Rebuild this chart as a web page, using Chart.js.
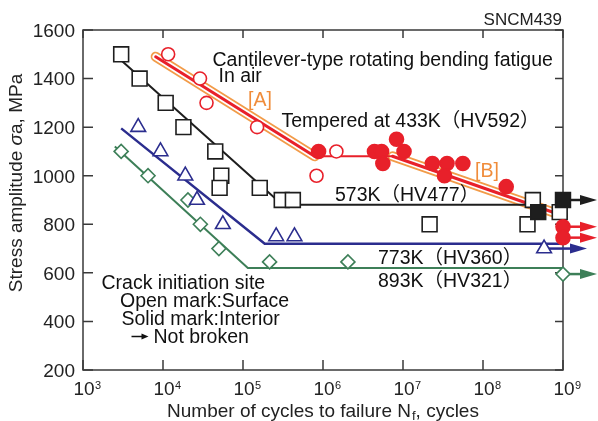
<!DOCTYPE html>
<html>
<head>
<meta charset="utf-8">
<script src="https://cdn.jsdelivr.net/npm/chart.js@4.4.1/dist/chart.umd.min.js"></script>
<style>
  body { margin: 0; background: #fff; }
</style>
</head>
<body>
<canvas id="sn" width="598" height="421"></canvas>
<script>
// SNCM439 rotating bending S-N data (N in cycles, stress in MPa)

// tempered at 433K (HV592)
const n433Open = [1.16e4, 2.9e4, 3.5e4, 1.5e5, 1.47e6, 8.3e5];
const s433Open = [1500, 1400, 1300, 1200, 1100, 1000];
const n433Solid = [8.8e5, 4.4e6, 5.4e6, 5.6e6, 8.3e6, 1.03e7, 2.33e7, 3.55e7, 5.6e7, 3.3e7, 1.95e8, 1e9, 1e9];
const s433Solid = [1100, 1100, 1100, 1050, 1150, 1100, 1050, 1050, 1050, 1000, 955, 790, 745];

// 573K (HV477)
const n573Open = [3e3, 5.1e3, 1.08e4, 1.8e4, 4.5e4, 5.35e4, 5.1e4, 1.62e5, 3.05e5, 4.2e5, 2.15e7, 3.6e8, 4.2e8, 9.1e8];
const s573Open = [1500, 1400, 1300, 1200, 1100, 1000, 950, 950, 900, 900, 800, 800, 900, 850];
const n573Solid = [4.9e8, 1e9];
const s573Solid = [850, 900];

// 773K (HV360)
const n773 = [4.9e3, 9.3e3, 1.9e4, 2.66e4, 5.6e4, 2.6e5, 4.4e5, 5.8e8];
const s773 = [1200, 1100, 1000, 900, 800, 750, 750, 700];

// 893K (HV321)
const n893 = [3e3, 6.5e3, 2.05e4, 2.93e4, 5e4, 2.15e5, 2.05e6, 1e9];
const s893 = [1100, 1000, 900, 800, 700, 645, 645, 595];

// fitted S-N curves
const fitAN = [8.1e3, 7.85e5];
const fitAS = [1490, 1080];
const fit433N = [7.85e5, 7.4e6];
const fit433S = [1080, 1080];
const fitBN = [7.4e6, 1e9];
const fitBS = [1080, 835];
const fit573N = [2.9e3, 3.1e5, 3.8e8];
const fit573S = [1480, 880, 880];
const fit773N = [3e3, 1.87e5, 1e9];
const fit773S = [1195, 720, 720];
const fit893N = [2.5e3, 1.15e5, 1e9];
const fit893S = [1120, 620, 620];

// run-outs (not broken)
const runN = [1e9, 1e9, 1e9, 5.8e8, 1e9];
const runS = [900, 790, 745, 700, 595];

const xExps = [3, 4, 5, 6, 7, 8, 9];
const yTicks = [200, 400, 600, 800, 1000, 1200, 1400, 1600];

const RED = '#e8202a', ORANGE = '#f29b48', BLUE = '#2b2d8e', GREEN = '#3d7f58', BLACK = '#1e1e1e';
const FONT = '"Liberation Sans", Arial, "Noto Sans CJK JP", sans-serif';

function pts(ns, ss) {
    return ns.map((n, i) => ({ x: n, y: ss[i] }));
}

function curve(ns, ss, color, width, order, cap) {
    return {
        data: pts(ns, ss), showLine: true, borderColor: color, borderWidth: width,
        borderCapStyle: cap || 'butt', borderJoinStyle: 'round',
        pointRadius: 0, pointHoverRadius: 0, order: order, clip: false
    };
}

function marks(ns, ss, style, r, color, solid) {
    return {
        data: pts(ns, ss), showLine: false, pointStyle: style,
        pointRadius: r, pointHoverRadius: r,
        pointBorderColor: color, pointBackgroundColor: solid ? color : '#fff',
        pointBorderWidth: 1.6, order: 0, clip: false
    };
}

const datasets = [
    marks(n433Solid, s433Solid, 'circle', 7, RED, true),
    marks(n433Open, s433Open, 'circle', 6.5, RED, false),
    marks(n573Solid, s573Solid, 'rect', 10.5, BLACK, true),
    marks(n573Open, s573Open, 'rect', 10.5, BLACK, false),
    marks(n773, s773, 'triangle', 8.5, BLUE, false),
    marks(n893, s893, 'rectRot', 7, GREEN, false),
    curve(fit573N, fit573S, BLACK, 2, 5),
    curve(fit773N, fit773S, BLUE, 2.5, 5),
    curve(fit893N, fit893S, GREEN, 2, 5),
    curve(fit433N, fit433S, RED, 2, 6),
    curve(fitAN, fitAS, RED, 3, 7, 'round'),
    curve(fitBN, fitBS, RED, 3, 7, 'round'),
    curve(fitAN, fitAS, '#fff', 6.5, 8, 'round'),
    curve(fitBN, fitBS, '#fff', 6.5, 8, 'round'),
    curve(fitAN, fitAS, ORANGE, 10, 9, 'round'),
    curve(fitBN, fitBS, ORANGE, 10, 9, 'round')
];

function arrow(ctx, x0, y0, x1, color, w, head, half) {
    ctx.strokeStyle = color;
    ctx.fillStyle = color;
    ctx.lineWidth = w;
    ctx.beginPath();
    ctx.moveTo(x0, y0);
    ctx.lineTo(x1 - head + 2, y0);
    ctx.stroke();
    ctx.beginPath();
    ctx.moveTo(x1, y0);
    ctx.lineTo(x1 - head, y0 - half);
    ctx.lineTo(x1 - head, y0 + half);
    ctx.closePath();
    ctx.fill();
}

function text(ctx, s, x, y, size, color, align, style) {
    ctx.font = (style || '') + ' ' + size + 'px ' + FONT;
    ctx.fillStyle = color || '#111';
    ctx.textAlign = align || 'left';
    ctx.textBaseline = 'alphabetic';
    ctx.fillText(s, x, y);
}

const framePlugin = {
    id: 'frame',
    beforeDraw(chart) {
        const ctx = chart.ctx;
        ctx.save();
        ctx.fillStyle = '#fff';
        ctx.fillRect(0, 0, chart.width, chart.height);
        ctx.restore();
    },
    beforeDatasetsDraw(chart) {
        const { ctx, chartArea: a, scales: { x, y } } = chart;
        ctx.save();
        ctx.strokeStyle = '#3a3a3a';
        ctx.lineWidth = 1.5;
        ctx.strokeRect(a.left, a.top, a.right - a.left, a.bottom - a.top);
        ctx.beginPath();
        xExps.forEach(e => {
            const px = x.getPixelForValue(Math.pow(10, e));
            ctx.moveTo(px, a.bottom); ctx.lineTo(px, a.bottom - 10);
            ctx.moveTo(px, a.top); ctx.lineTo(px, a.top + 8);
        });
        yTicks.forEach(v => {
            const py = y.getPixelForValue(v);
            ctx.moveTo(a.left, py); ctx.lineTo(a.left + 10, py);
            ctx.moveTo(a.right, py); ctx.lineTo(a.right - 8, py);
        });
        ctx.stroke();

        // run-out arrows
        const colors = [BLACK, RED, RED, BLUE, GREEN];
        const reach = [34, 34, 34, 24, 34];
        runN.forEach((n, i) => {
            const px = x.getPixelForValue(n), py = y.getPixelForValue(runS[i]);
            arrow(ctx, px, py, a.right + reach[i], colors[i], 2.5, 17, 5);
        });
        ctx.restore();
    },
    afterDraw(chart) {
        const { ctx, chartArea: a, scales: { x, y } } = chart;
        ctx.save();

        // tick labels
        xExps.forEach(e => {
            const px = x.getPixelForValue(Math.pow(10, e));
            text(ctx, '10', px + 1, a.bottom + 25, 19, '#222', 'center');
            text(ctx, String(e), px + 12, a.bottom + 18.5, 11, '#222', 'left');
        });
        yTicks.forEach(v => {
            text(ctx, String(v), a.left - 8, y.getPixelForValue(v) + 6.8, 19, '#222', 'right');
        });

        // axis titles
        ctx.font = '19px ' + FONT;
        const p1 = 'Number of cycles to failure N', p3 = ', cycles';
        const w1 = ctx.measureText(p1).width, w3 = ctx.measureText(p3).width;
        ctx.font = '13px ' + FONT;
        const w2 = ctx.measureText('f').width + 1;
        let sx = (a.left + a.right) / 2 - (w1 + w2 + w3) / 2;
        text(ctx, p1, sx, 417, 19, '#222');
        text(ctx, 'f', sx + w1 + 1, 420, 13, '#222');
        text(ctx, p3, sx + w1 + w2, 417, 19, '#222');

        ctx.save();
        ctx.translate(22, 183);
        ctx.rotate(-Math.PI / 2);
        const parts = [['Stress amplitude ', ''], ['\u03c3', 'italic'], ['a, MPa', '']];
        let total = 0;
        const widths = parts.map(p => {
            ctx.font = p[1] + ' 19px ' + FONT;
            const w = ctx.measureText(p[0]).width;
            total += w;
            return w;
        });
        let cx = -total / 2;
        parts.forEach((p, i) => {
            text(ctx, p[0], cx, 0, 19, '#222', 'left', p[1]);
            cx += widths[i];
        });
        ctx.restore();

        // annotations
        const fs = 19.5;
        text(ctx, 'SNCM439', a.right - 1, 25, 17, '#222', 'right');
        text(ctx, 'Cantilever-type rotating bending fatigue', 212.5, 66, fs, '#111');
        text(ctx, 'In air', 218.5, 81.5, fs, '#111');
        text(ctx, '[A]', 248, 106, fs, '#f08c3a');
        text(ctx, 'Tempered at 433K\uff08HV592\uff09', 281.5, 126.5, fs, '#111');
        text(ctx, '[B]', 475, 176.5, fs, '#f08c3a');
        text(ctx, '573K\uff08HV477\uff09', 335, 200.5, fs, '#111');
        text(ctx, '773K\uff08HV360\uff09', 378, 263.5, fs, '#111');
        text(ctx, '893K\uff08HV321\uff09', 378, 286.5, fs, '#111');
        text(ctx, 'Crack initiation site', 101.5, 288.5, fs, '#111');
        text(ctx, 'Open mark:Surface', 120, 306.5, fs, '#111');
        text(ctx, 'Solid mark:Interior', 121.5, 325, fs, '#111');
        arrow(ctx, 131.5, 336.5, 148.5, '#111', 1.5, 7, 3);
        text(ctx, 'Not broken', 153.5, 342.5, fs, '#111');
        ctx.restore();
    }
};

new Chart(document.getElementById('sn'), {
    type: 'scatter',
    data: { datasets: datasets },
    options: {
        responsive: false,
        animation: false,
        devicePixelRatio: 1,
        events: [],
        layout: { padding: { left: 83, right: 35, top: 30, bottom: 51 } },
        plugins: { legend: { display: false }, tooltip: { enabled: false } },
        scales: {
            x: { type: 'logarithmic', min: 1e3, max: 1e9, display: false },
            y: { type: 'linear', min: 200, max: 1600, display: false }
        }
    },
    plugins: [framePlugin]
});
</script>
</body>
</html>
